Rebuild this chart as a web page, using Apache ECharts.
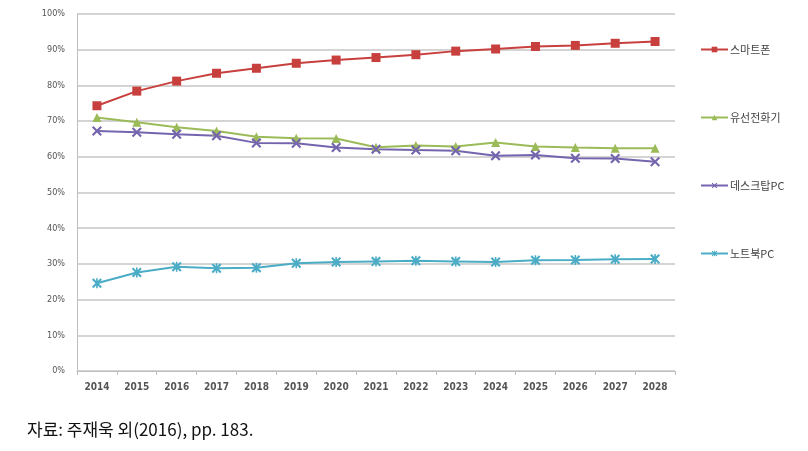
<!DOCTYPE html>
<html><head><meta charset="utf-8">
<script src="https://cdn.jsdelivr.net/npm/echarts@6/dist/echarts.min.js"></script>
<style>html,body{margin:0;padding:0;background:#fff}#c{width:808px;height:451px}</style>
</head><body><div id="c"></div>
<script>
const categories = ['2014','2015','2016','2017','2018','2019','2020','2021','2022','2023','2024','2025','2026','2027','2028'];
const yTicks = [0,10,20,30,40,50,60,70,80,90,100];
const smartphone = [74.3,78.4,81.2,83.4,84.8,86.2,87.1,87.8,88.6,89.6,90.2,90.9,91.2,91.8,92.3];
const landline   = [71.0,69.7,68.3,67.2,65.6,65.2,65.1,62.7,63.2,62.9,64.0,62.9,62.6,62.4,62.4];
const desktop    = [67.2,66.9,66.3,65.9,63.9,63.8,62.6,62.1,61.9,61.7,60.3,60.5,59.6,59.5,58.6];
const notebook   = [24.6,27.6,29.2,28.8,28.9,30.2,30.5,30.7,30.9,30.7,30.5,31.0,31.1,31.3,31.4];
const names = ['스마트폰','유선전화기','데스크탑PC','노트북PC'];

const xPath = 'path://M0,1.5L1.5,0L5,3.5L8.5,0L10,1.5L6.5,5L10,8.5L8.5,10L5,6.5L1.5,10L0,8.5L3.5,5Z';
const starPath = 'path://M0,1.5L1.5,0L4.2,2.7L4.2,0L5.8,0L5.8,2.7L8.5,0L10,1.5L6.5,5L10,8.5L8.5,10L5.8,7.3L5.8,10L4.2,10L4.2,7.3L1.5,10L0,8.5L3.5,5Z';

const chart = echarts.init(document.getElementById('c'), null, {renderer:'canvas'});
function mk(name, data, color, symbol, size){
  return {name, type:'line', data, symbol, symbolSize:size, showSymbol:true,
    lineStyle:{color, width:2}, itemStyle:{color}, z:3};
}
chart.setOption({
  animation:false,
  grid:{left:77, right:133, top:14, bottom:80, containLabel:false},
  legend:{
    orient:'vertical', left:695, top:39, itemGap:57, itemWidth:27, itemHeight:7,
    textStyle:{fontSize:11, color:'#444', fontFamily:'Noto Sans CJK KR', padding:[0,0,0,-3]},
    data:names
  },
  xAxis:{type:'category', data:categories, boundaryGap:true,
    axisLine:{lineStyle:{color:'#BFBFBF', width:1}},
    axisTick:{show:true, alignWithLabel:false, length:4, lineStyle:{color:'#BFBFBF'}},
    axisLabel:{fontSize:10, color:'#555', margin:11, fontFamily:'DejaVu Sans Condensed', fontWeight:'bold'},
    splitLine:{show:false}},
  yAxis:{type:'value', min:0, max:100, interval:10,
    axisLine:{show:true, lineStyle:{color:'#BFBFBF'}},
    axisTick:{show:false},
    axisLabel:{fontSize:9, color:'#555', margin:12, fontFamily:'DejaVu Sans Condensed',
      formatter:v=> yTicks.includes(v) ? v+'%' : ''},
    splitLine:{lineStyle:{color:'#D4D4D4', width:2}}},
  series:[
    mk(names[0], smartphone, '#C8403E', 'rect', 9),
    mk(names[1], landline, '#9BBB59', 'triangle', 9),
    mk(names[2], desktop, '#7565AE', xPath, 10),
    mk(names[3], notebook, '#4BACC6', starPath, 10)
  ],
  graphic:[{type:'text', left:27, top:421,
    style:{text:'자료: 주재욱 외(2016), pp. 183.', fontSize:17, fill:'#111', fontFamily:'Noto Sans CJK KR'}}]
});
</script></body></html>
